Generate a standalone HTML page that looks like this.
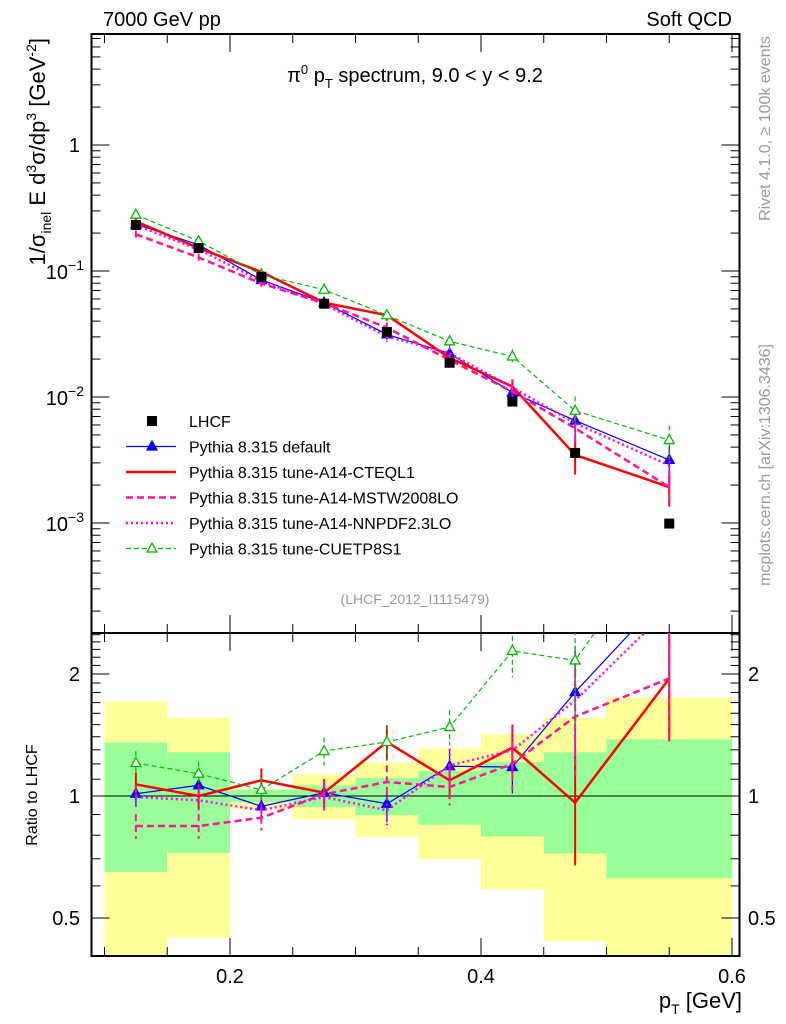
<!DOCTYPE html>
<html><head><meta charset="utf-8"><style>
body{margin:0;background:#fff}
svg{display:block;font-family:"Liberation Sans",sans-serif}
</style></head><body>
<svg id="c" width="786" height="1024" xmlns="http://www.w3.org/2000/svg"></svg>
<script>
const xs=[0.125,0.175,0.225,0.275,0.325,0.375,0.425,0.475,0.55];
const binEdges=[0.1,0.15,0.2,0.25,0.3,0.35,0.4,0.45,0.5,0.6];
const lhcf=[0.232,0.152,0.090,0.055,0.0328,0.0187,0.0092,0.0036,0.00099];
const yelTop=[1.71,1.56,1.04,1.13,1.21,1.31,1.42,1.56,1.75];
const yelBot=[0.35,0.447,0.93,0.876,0.792,0.698,0.588,0.438,0.35];
const grnTop=[1.356,1.282,1.036,1.062,1.108,1.152,1.213,1.282,1.38];
const grnBot=[0.649,0.723,0.966,0.939,0.897,0.849,0.795,0.721,0.627];
const rDefault=[1.013,1.063,0.943,1.019,0.957,1.184,1.179,1.805,3.2];
const rCTEQ=[1.068,1.0,1.093,1.019,1.359,1.093,1.316,0.963,1.95];
const rMSTW=[0.843,0.843,0.884,1.01,1.083,1.052,1.20,1.57,1.95];
const rNNPDF=[0.994,0.976,0.922,0.994,0.922,1.19,1.296,1.72,2.9];
const rCUETP=[1.206,1.135,1.036,1.291,1.359,1.48,2.28,2.16,4.6];
const relErr=[0.07,0.07,0.07,0.08,0.1,0.1,0.14,0.3,0.3];
const xTicks=[0.2,0.4,0.6];
const mainTicks=[1,0.1,0.01,0.001];
const ratioTicks=[0.5,1,2];

const S=document.getElementById('c');const NS='http://www.w3.org/2000/svg';
function mk(t,a,p){const e=document.createElementNS(NS,t);for(const k in a)e.setAttribute(k,a[k]);(p||S).appendChild(e);return e;}
const L=91.5,R=739.5,T=34,M=633,B=956;
const X=v=>230+(v-0.2)*1255;
const Y=v=>145-126*Math.log10(v);
const YR=r=>796-122*Math.log2(r);
const clipM=mk('clipPath',{id:'cm'});mk('rect',{x:L,y:T,width:R-L,height:M-T},clipM);
const clipR=mk('clipPath',{id:'cr'});mk('rect',{x:L,y:M,width:R-L,height:B-M},clipR);

const bands=mk('g',{'clip-path':'url(#cr)'});


for(let i=0;i<xs.length;i++){
 const y=mk('rect',{x:X(binEdges[i]),width:X(binEdges[i+1])-X(binEdges[i]),y:YR(yelTop[i]),height:YR(yelBot[i])-YR(yelTop[i]),fill:'#ffff99'},bands);
 
 
 const g=mk('rect',{x:X(binEdges[i]),width:X(binEdges[i+1])-X(binEdges[i]),y:YR(grnTop[i]),height:YR(grnBot[i])-YR(grnTop[i]),fill:'#99ff99'},bands);
 
 
}
mk('line',{x1:L,x2:R,y1:YR(1),y2:YR(1),stroke:'#000','stroke-width':1});

const ax=mk('g',{stroke:'#000',fill:'none'});


mk('rect',{x:L,y:T,width:R-L,height:M-T,'stroke-width':2},ax);
mk('rect',{x:L,y:M,width:R-L,height:B-M,'stroke-width':2},ax);
for(let v=0.1;v<0.61;v+=0.05){const x=X(v);const big=Math.abs(v*10-Math.round(v*10))<1e-6&&Math.round(v*10)%2==0;const len=big?18:9;
 [[T,1],[M,-1],[M,1],[B,-1]].forEach(([y0,d])=>mk('line',{x1:x,x2:x,y1:y0,y2:y0+d*len,'stroke-width':1},ax));}
for(let e=-4;e<=0;e++)for(let k=1;k<10;k++){const v=k*Math.pow(10,e);const y=Y(v);if(y<T||y>M)continue;const len=k==1?18:9;
 mk('line',{x1:L,x2:L+len,y1:y,y2:y},ax);mk('line',{x1:R,x2:R-len,y1:y,y2:y},ax);}
const rm=[0.4,0.5,0.6,0.7,0.8,0.9,1,1.1,1.2,1.3,1.4,1.5,1.6,1.7,1.8,1.9,2,2.1,2.2,2.3,2.4,2.5];
rm.forEach(v=>{const y=YR(v);if(y<M||y>B)return;const len=(v==0.5||v==1||v==2)?18:9;
 mk('line',{x1:L,x2:L+len,y1:y,y2:y},ax);mk('line',{x1:R,x2:R-len,y1:y,y2:y},ax);});
function txt(s,a,name){const t=mk('text',a);t.innerHTML=s;return t;}
xTicks.forEach(v=>txt(String(v),{x:X(v),y:983,'font-size':20,'text-anchor':'middle'},'x-tick-label'));
txt('1',{x:80,y:152,'font-size':20,'text-anchor':'end'},'y-tick-label');
txt('10<tspan dy="-9" font-size="14">−1</tspan>',{x:84,y:Y(0.1)+8,'font-size':20,'text-anchor':'end'},'y-tick-label');
txt('10<tspan dy="-9" font-size="14">−2</tspan>',{x:84,y:Y(0.01)+8,'font-size':20,'text-anchor':'end'},'y-tick-label');
txt('10<tspan dy="-9" font-size="14">−3</tspan>',{x:84,y:Y(0.001)+8,'font-size':20,'text-anchor':'end'},'y-tick-label');
ratioTicks.forEach(v=>{txt(String(v),{x:80,y:YR(v)+7,'font-size':20,'text-anchor':'end'},'ratio-tick-label');
 txt(String(v),{x:748,y:YR(v)+7,'font-size':20},'ratio-tick-label-right');});

const series=[
 {n:'default',r:rDefault,c:'#0000ff',w:1.2,d:'',m:'tri'},
 {n:'cteql1',r:rCTEQ,c:'#ff0000',w:2.5,d:'',m:''},
 {n:'mstw',r:rMSTW,c:'#ff1493',w:2.5,d:'7,4',m:''},
 {n:'nnpdf',r:rNNPDF,c:'#ff00ff',w:2.5,d:'2,3',m:''},
 {n:'cuetp',r:rCUETP,c:'#00bb00',w:1.2,d:'5,3',m:'otri'}];
function tri(g,x,y,c,open){mk('path',{d:`M${x} ${y-5.5}L${x+5} ${y+3.5}L${x-5} ${y+3.5}Z`,fill:open?'#fff':c,stroke:c,'stroke-width':1.3},g);}
series.forEach(s=>{
 ['m','r'].forEach(pane=>{
  const g=mk('g',{'clip-path':pane=='m'?'url(#cm)':'url(#cr)'});
  
  
  const pts=xs.map((x,i)=>{const r=s.r[i];const v=pane=='m'?lhcf[i]*r:r;const yf=pane=='m'?Y:YR;
   const e=relErr[i];return [X(x),yf(v),yf(v*(1+e)),yf(v*(1-e))];});
  mk('polyline',{points:pts.map(p=>p[0]+','+p[1]).join(' '),fill:'none',stroke:s.c,'stroke-width':s.w,'stroke-dasharray':s.d},g);
  pts.forEach(p=>{mk('line',{x1:p[0],x2:p[0],y1:p[2],y2:p[3],stroke:s.c,'stroke-width':s.w>2?2:1.2,'stroke-dasharray':s.d},g);
   if(s.m)tri(g,p[0],p[1],s.c,s.m=='otri');});
 });
});
const lg=mk('g',{});


xs.forEach((x,i)=>mk('rect',{x:X(x)-5,y:Y(lhcf[i])-5,width:10,height:10,fill:'#000'},lg));

const leg=[['LHCF','','#000',''],['Pythia 8.315 default','','#0000ff','tri'],['Pythia 8.315 tune-A14-CTEQL1','','#ff0000',''],
 ['Pythia 8.315 tune-A14-MSTW2008LO','7,4','#ff1493',''],['Pythia 8.315 tune-A14-NNPDF2.3LO','2,3','#ff00ff',''],['Pythia 8.315 tune-CUETP8S1','5,3','#00bb00','otri']];
leg.forEach((l,i)=>{const y=421+i*25.5;const g=mk('g',{});
 
 
 if(i==0)mk('rect',{x:147,y:y-5,width:10,height:10,fill:'#000'},g);
 else{mk('line',{x1:126,x2:176,y1:y,y2:y,stroke:l[2],'stroke-width':(i==2||i==3||i==4)?2.5:1.2,'stroke-dasharray':l[1]},g);if(l[3])tri(g,152,y,l[2],l[3]=='otri');}
 const t=mk('text',{x:189,y:y+6,'font-size':16},g);t.textContent=l[0];});

txt('7000 GeV pp',{x:103,y:26,'font-size':20},'energy-label');
txt('Soft QCD',{x:732,y:26,'font-size':20,'text-anchor':'end'},'category-label');
txt('π<tspan dy="-8" font-size="13">0</tspan><tspan dy="8"> p</tspan><tspan dy="6" font-size="13">T</tspan><tspan dy="-6"> spectrum, 9.0 &lt; y &lt; 9.2</tspan>',{x:415,y:82,'font-size':20,'text-anchor':'middle'},'plot-title');
txt('(LHCF_2012_I1115479)',{x:415,y:604,'font-size':14,fill:'#999','text-anchor':'middle'},'analysis-id');
txt('p<tspan dy="6" font-size="14">T</tspan><tspan dy="-6"> [GeV]</tspan>',{x:742,y:1008,'font-size':22,'text-anchor':'end'},'x-axis-title');
txt('1/σ<tspan dy="6" font-size="14">inel</tspan><tspan dy="-6"> E d</tspan><tspan dy="-9" font-size="14">3</tspan><tspan dy="9">σ/dp</tspan><tspan dy="-9" font-size="14">3</tspan><tspan dy="9"> [GeV</tspan><tspan dy="-9" font-size="14">-2</tspan><tspan dy="9">]</tspan>',{x:0,y:0,'font-size':22,'text-anchor':'end',transform:'translate(45,38) rotate(-90)'},'y-axis-title');
txt('Ratio to LHCF',{x:0,y:0,'font-size':16,'text-anchor':'middle',transform:'translate(37,795) rotate(-90)'},'ratio-axis-title');
txt('Rivet 4.1.0, ≥ 100k events',{x:0,y:0,'font-size':16,fill:'#999','text-anchor':'end',transform:'translate(770,36) rotate(-90)'},'rivet-label');
txt('mcplots.cern.ch [arXiv:1306.3436]',{x:0,y:0,'font-size':16,fill:'#999','text-anchor':'end',transform:'translate(770,344) rotate(-90)'},'mcplots-label');
</script>
</body></html>
